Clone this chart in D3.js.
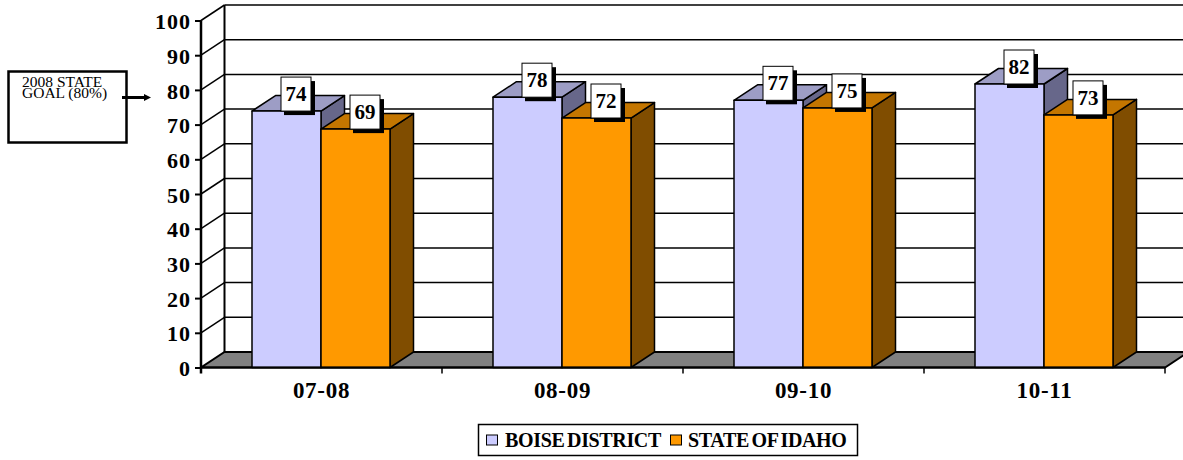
<!DOCTYPE html>
<html><head><meta charset="utf-8">
<script src="https://cdn.jsdelivr.net/npm/d3@7/dist/d3.min.js"></script>
<style>
html,body{margin:0;padding:0;background:#fff;overflow:hidden}
svg{display:block}
text{font-family:"Liberation Serif",serif;fill:#000}
</style></head><body>
<svg id="c" width="1183" height="460"></svg>
<script>
const categories = ["07-08","08-09","09-10","10-11"];
const seriesNames = ["BOISE DISTRICT","STATE OF IDAHO"];
const boise = [74,78,77,82];
const idaho = [69,72,75,73];
const barTops = [[73.9,77.9,77,81.7],[68.7,71.9,74.8,72.8]];
const yTicks = [0,10,20,30,40,50,60,70,80,90,100];
const goalLines = ["2008 STATE","GOAL (80%)"];

const faces = [
  {front:"#ccccff", top:"#9d9dc5", side:"#67678a"},
  {front:"#ff9900", top:"#c47600", side:"#804d00"}
];
const dx = 23.5, dy = -15.5;
const svg = d3.select("#c");
const y = d3.scaleLinear().domain([0,100]).range([367.5,20.5]);
const x = d3.scaleBand().domain(categories).range([201,1165]);
const inner = d3.scaleBand().domain([0,1]).range([51,189]);
const pts = a => a.map(p=>p.join(",")).join(" ");

// gridlines on back wall and side wall
const grid = svg.append("g").attr("stroke","#000").attr("stroke-width",1.5);
yTicks.filter(v=>v>0).forEach(v=>{
  grid.append("line").attr("x1",201).attr("y1",y(v)).attr("x2",201+dx).attr("y2",y(v)+dy);
  grid.append("line").attr("x1",201+dx).attr("y1",y(v)+dy).attr("x2",1183).attr("y2",y(v)+dy);
});
grid.append("line").attr("x1",201+dx).attr("y1",y(100)+dy).attr("x2",201+dx).attr("y2",y(0)+dy).attr("stroke-width",2);

// floor
svg.append("polygon")
  .attr("points",pts([[201,y(0)],[1165,y(0)],[1165+dx,y(0)+dy],[201+dx,y(0)+dy]]))
  .attr("fill","#808080").attr("stroke","#000").attr("stroke-width",2);

// bars
const values = [boise,idaho];
categories.forEach((c,i)=>{
  [0,1].forEach(s=>{
    const x0 = x(c)+inner(s), x1 = x0+inner.bandwidth();
    const t = y(barTops[s][i]), b = y(0), f = faces[s];
    const g = svg.append("g").attr("stroke","#000").attr("stroke-width",1.5).attr("stroke-linejoin","round");
    g.append("polygon").attr("fill",f.side).attr("points",pts([[x1,t],[x1+dx,t+dy],[x1+dx,b+dy],[x1,b]]));
    g.append("polygon").attr("fill",f.top).attr("points",pts([[x0,t],[x0+dx,t+dy],[x1+dx,t+dy],[x1,t]]));
    g.append("rect").attr("x",x0).attr("y",t).attr("width",x1-x0).attr("height",b-t).attr("fill",f.front);
  });
});

// data labels
categories.forEach((c,i)=>{
  [0,1].forEach(s=>{
    const x0 = x(c)+inner(s), cx = x0+inner.bandwidth()/2+9.5;
    const t = y(barTops[s][i]), h = 34, w = 30, top = t-h;
    svg.append("rect").attr("x",cx-w/2+3).attr("y",top+4).attr("width",w+1).attr("height",h).attr("fill","#000");
    svg.append("rect").attr("x",cx-w/2).attr("y",top).attr("width",w).attr("height",h).attr("fill","#fff").attr("stroke","#000").attr("stroke-width",1);
    svg.append("text").attr("x",cx).attr("y",top+h/2+7).attr("text-anchor","middle")
      .attr("font-size",21).attr("font-weight","bold").text(values[s][i]);
  });
});

// y axis
const yAxis = svg.append("g").attr("transform","translate(201,0)")
  .call(d3.axisLeft(y).tickValues(yTicks).tickSize(6).tickPadding(4));
yAxis.selectAll("path").remove();
yAxis.selectAll("line").attr("stroke","#000").attr("stroke-width",2);
yAxis.selectAll("text").attr("font-family","Liberation Serif").attr("font-size",22).attr("letter-spacing",1).attr("font-weight","bold").attr("fill","#000").attr("dy","0.37em");
svg.append("line").attr("x1",201).attr("x2",201).attr("y1",y(100)).attr("y2",y(0)+6).attr("stroke","#000").attr("stroke-width",2.5);

// x axis
svg.append("line").attr("x1",201).attr("x2",1165).attr("y1",y(0)).attr("y2",y(0)).attr("stroke","#000").attr("stroke-width",2);
const xAxis = svg.append("g").attr("transform",`translate(0,${y(0)})`)
  .call(d3.axisBottom(x).tickSize(0).tickPadding(14.5));
xAxis.selectAll("path").remove();
xAxis.selectAll("text").attr("font-family","Liberation Serif").attr("font-size",23).attr("letter-spacing",0.7).attr("font-weight","bold").attr("fill","#000");
categories.forEach((c,i)=>{
  const tx = x(c)+x.bandwidth();
  svg.append("line").attr("x1",tx).attr("x2",tx).attr("y1",y(0)).attr("y2",y(0)+6).attr("stroke","#000").attr("stroke-width",1.5);
});

// legend
svg.append("rect").attr("x",478.5).attr("y",424.5).attr("width",379).attr("height",31).attr("fill","#fff").attr("stroke","#000").attr("stroke-width",1.5);
[[486.5,505],[670.5,688]].forEach((l,i)=>{
  svg.append("rect").attr("x",l[0]).attr("y",435).attr("width",11).attr("height",10)
    .attr("fill",faces[i].front).attr("stroke","#000").attr("stroke-width",1);
  svg.append("text").attr("x",l[1]).attr("y",447).attr("font-size",20).attr("font-weight","bold")
    .attr("word-spacing",-2).attr("letter-spacing",-0.35)
    .text(seriesNames[i]);
});

// goal note
svg.append("rect").attr("x",8.5).attr("y",71.5).attr("width",118).attr("height",71).attr("fill","#fff").attr("stroke","#000").attr("stroke-width",2.5);
goalLines.forEach((t,i)=>{
  svg.append("text").attr("x",22).attr("y",87+i*11).attr("font-size",15.5).attr("fill","#222").text(t);
});
svg.append("line").attr("x1",122).attr("x2",145).attr("y1",97.5).attr("y2",97.5).attr("stroke","#000").attr("stroke-width",3);
svg.append("polygon").attr("points",pts([[151,97.5],[144,94],[144,101]])).attr("fill","#000");
</script>
</body></html>
